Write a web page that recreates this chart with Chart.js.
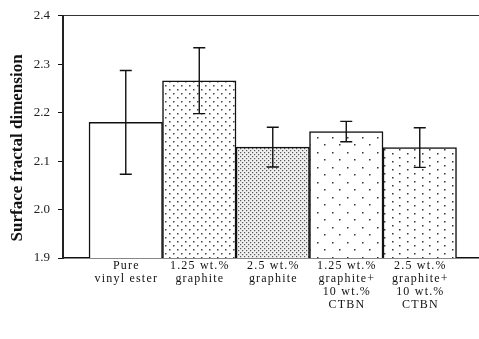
<!DOCTYPE html>
<html>
<head>
<meta charset="utf-8">
<script src="https://cdn.jsdelivr.net/npm/chart.js@4/dist/chart.umd.min.js"></script>
<style>
  html, body { margin: 0; padding: 0; background: #fff; overflow: hidden; }
  #wrap { width: 479px; height: 339px; }
</style>
</head>
<body>
<div id="wrap"><canvas id="c" width="479" height="339"></canvas></div>
<script>
// Sample groups (multi-line category labels)
const categories = [
  ['Pure', 'vinyl ester'],
  ['1.25 wt.%', 'graphite'],
  ['2.5 wt.%', 'graphite'],
  ['1.25 wt.%', 'graphite+', '10 wt.%', 'CTBN'],
  ['2.5 wt.%', 'graphite+', '10 wt.%', 'CTBN']
];
// Mean surface fractal dimension and its standard deviation
const fractalDim = [2.180, 2.266, 2.129, 2.161, 2.128];
const fractalErr = [0.107, 0.068, 0.041, 0.021, 0.041];
// Value axis ticks
const yTicks = [1.9, 2.0, 2.1, 2.2, 2.3, 2.4];

// Dot-pattern fills for the bars
function dotPattern(w, h, dots, r, color, bg) {
  const c = document.createElement('canvas');
  c.width = w; c.height = h;
  const g = c.getContext('2d');
  g.fillStyle = bg || '#fff';
  g.fillRect(0, 0, w, h);
  g.fillStyle = color;
  dots.forEach(([x, y]) => { g.fillRect(x, y, r, r); });
  return g.createPattern(c, 'repeat');
}
const ctx = document.getElementById('c').getContext('2d');
const fills = [
  '#ffffff',
  dotPattern(8, 8, [[1, 1], [5, 5]], 1.5, '#444'),
  dotPattern(4, 4, [[0, 0], [2, 2]], 1.2, '#555', '#f0f0f0'),
  dotPattern(15, 15, [[2, 2], [9, 9]], 1.5, '#333'),
  dotPattern(15, 8, [[2, 1], [9, 5]], 1.5, '#333')
];

// Error bars drawn through the chart scales
const errorBars = {
  id: 'errorBars',
  afterDatasetsDraw(chart) {
    const { ctx, scales: { x, y } } = chart;
    ctx.save();
    ctx.strokeStyle = '#111';
    ctx.lineWidth = 1.4;
    fractalDim.forEach((v, i) => {
      const px = x.getPixelForValue(i);
      const top = y.getPixelForValue(v + fractalErr[i]);
      const bot = y.getPixelForValue(v - fractalErr[i]);
      const cap = 6;
      ctx.beginPath();
      ctx.moveTo(px, top); ctx.lineTo(px, bot);
      ctx.moveTo(px - cap, top); ctx.lineTo(px + cap, top);
      ctx.moveTo(px - cap, bot); ctx.lineTo(px + cap, bot);
      ctx.stroke();
    });
    ctx.restore();
  }
};

// Letter-spaced category labels and a lowered value-axis title
const axisText = {
  id: 'axisText',
  afterUpdate(chart) {
    const sx = chart.scales.x, sy = chart.scales.y;
    if (!sx._wrapped) {
      const origLabels = sx.drawLabels;
      sx.drawLabels = function (area) {
        const c = this.ctx;
        c.save();
        c.letterSpacing = '1.2px';
        c.translate(0.6, 0);
        origLabels.call(this, area);
        c.restore();
      };
      sx._wrapped = true;
    }
    if (!sy._wrapped) {
      const origTitle = sy.drawTitle;
      sy.drawTitle = function () {
        const c = this.ctx;
        c.save();
        c.translate(0, 11);
        origTitle.call(this);
        c.restore();
      };
      sy._wrapped = true;
    }
  }
};

new Chart(ctx, {
  type: 'bar',
  data: {
    datasets: [{
      data: fractalDim.map((v, i) => ({ x: i, y: v })),
      backgroundColor: fills,
      borderColor: '#111',
      borderWidth: 1.5,
      borderSkipped: false,
      barPercentage: 1,
      categoryPercentage: 1
    }]
  },
  options: {
    responsive: false,
    animation: false,
    devicePixelRatio: 1,
    layout: { padding: { top: 15, right: 0, left: 0, bottom: 0 } },
    plugins: { legend: { display: false }, tooltip: { enabled: false } },
    scales: {
      x: {
        type: 'linear',
        offset: false,
        min: -0.854,
        max: 4.806,
        afterBuildTicks(scale) { scale.ticks = categories.map((_, i) => ({ value: i })); },
        afterFit(scale) { scale.height = 81; },
        grid: { display: false, drawTicks: false },
        border: { display: true, color: '#111', width: 1.5 },
        ticks: {
          autoSkip: false,
          maxRotation: 0,
          padding: 1,
          color: '#111',
          font: { family: 'Liberation Serif', size: 12, lineHeight: 1.1 },
          callback: (v) => categories[Math.round(v)]
        }
      },
      y: {
        min: 1.9,
        max: 2.4,
        afterBuildTicks(scale) { scale.ticks = yTicks.map(v => ({ value: v })); },
        afterFit(scale) { scale.width = 63; },
        grid: {
          drawOnChartArea: true,
          tickLength: 5,
          tickColor: '#111',
          color: (c) => (c.tick && Math.abs(c.tick.value - 2.4) < 1e-6) ? '#333' : 'rgba(0,0,0,0)',
          lineWidth: 1
        },
        border: { display: true, color: '#222', width: 2 },
        ticks: {
          padding: 8,
          color: '#222',
          font: { family: 'Liberation Serif', size: 13 },
          callback: (v) => v.toFixed(1)
        },
        title: {
          display: true,
          text: 'Surface fractal dimension',
          color: '#111',
          padding: { top: 7, bottom: 0 },
          font: { family: 'Liberation Serif', size: 17, weight: 'bold' }
        }
      }
    }
  },
  plugins: [errorBars, axisText]
});
</script>
</body>
</html>
